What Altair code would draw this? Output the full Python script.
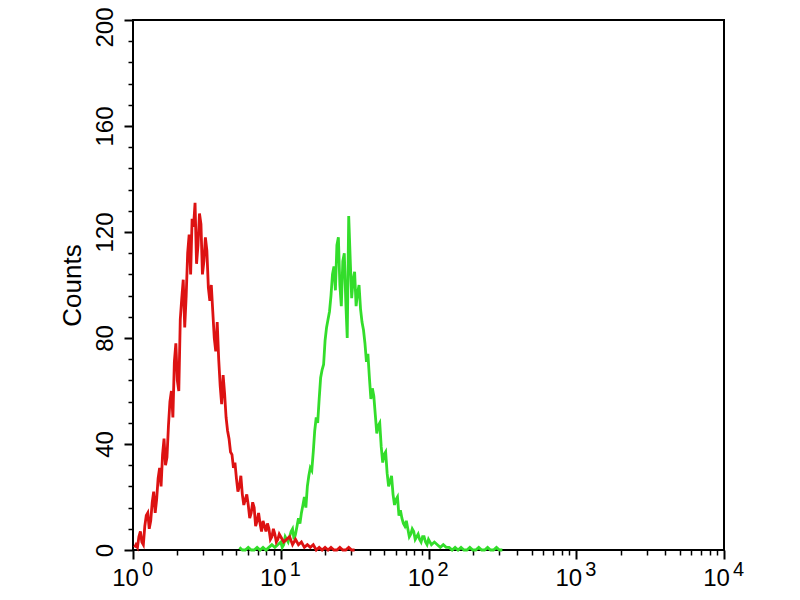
import altair as alt
import pandas as pd

# ---------------- data ----------------
# red histogram (unstained control)
RED_X = [1.047, 1.096, 1.148, 1.202, 1.259, 1.318, 1.380, 1.445, 1.514, 1.585,
         1.660, 1.738, 1.820, 1.905, 1.995, 2.089, 2.188, 2.291, 2.399, 2.512,
         2.630, 2.754, 2.884, 3.020, 3.162, 3.311, 3.467, 3.631, 3.802, 3.981,
         4.169, 4.365, 4.571, 4.786, 5.012, 5.248, 5.495, 5.754, 6.026, 6.310,
         6.607, 6.918, 7.244, 7.586, 7.943, 8.318, 8.710, 9.120, 9.550, 10.00,
         10.47, 10.96, 11.48, 12.02, 12.59, 13.18, 13.80, 14.45, 15.14, 15.85,
         16.60, 17.38, 18.20, 19.05, 19.95, 20.89, 21.88, 22.91, 23.99, 25.12,
         26.30, 27.54, 28.84, 30.20, 31.62]
RED_Y = [2, 5, 3, 9, 14, 11, 22, 19, 31, 36,
         32, 47, 60, 71, 64, 87, 102, 96, 119, 125,
         131, 115, 123, 109, 113, 94, 90, 75, 72, 55,
         59, 45, 37, 31, 27, 24, 21, 19, 17, 14,
         16, 11, 10, 11, 7, 8, 5, 6, 4, 5,
         3, 4, 5, 2, 4, 2, 3, 1, 2, 1,
         2, 0, 1, 0, 1, 0, 1, 0, 0, 1,
         0, 0, 1, 0, 0]
# in-between channels of the red histogram (the jagged part)
RED_X_MID = [1.023, 1.072, 1.122, 1.175, 1.230, 1.288, 1.349, 1.413, 1.479, 1.549,
             1.622, 1.698, 1.778, 1.862, 1.950, 2.042, 2.138, 2.239, 2.344, 2.455,
             2.570, 2.692, 2.818, 2.951, 3.090, 3.236, 3.388, 3.548, 3.715, 3.890,
             4.074, 4.266, 4.467, 4.677, 4.898, 5.129, 5.370, 5.623, 5.888, 6.166,
             6.457, 6.761, 7.079, 7.413, 7.762, 8.128, 8.511, 8.913, 9.333, 9.772]
RED_Y_MID = [1, 1, 7, 2, 13, 8, 18, 14, 27, 24,
             42, 35, 56, 50, 78, 60, 95, 84, 112, 104,
             122, 108, 127, 104, 118, 99, 100, 80, 86, 62,
             66, 50, 42, 36, 33, 22, 28, 17, 21, 12,
             18, 9, 14, 7, 9, 10, 4, 8, 3, 6]

# green histogram (stained sample)
GREEN_X = [5.248, 5.495, 5.754, 6.026, 6.310, 6.607, 6.918, 7.244, 7.586, 7.943,
           8.318, 8.710, 9.120, 9.550, 10.00, 10.47, 10.96, 11.48, 12.02, 12.59,
           13.18, 13.80, 14.45, 15.14, 15.85, 16.60, 17.38, 18.20, 19.05, 19.95,
           20.89, 21.88, 22.91, 23.99, 25.12, 26.30, 27.54, 28.84, 30.20, 31.62,
           33.11, 34.67, 36.31, 38.02, 39.81, 41.69, 43.65, 45.71, 47.86, 50.12,
           52.48, 54.95, 57.54, 60.26, 63.10, 66.07, 69.18, 72.44, 75.86, 79.43,
           83.18, 87.10, 91.20, 95.50, 100.0, 104.7, 109.6, 114.8, 120.2, 125.9,
           131.8, 138.0, 144.5, 151.4, 158.5, 166.0, 173.8, 182.0, 190.5, 199.5,
           208.9, 218.8, 229.1, 239.9, 251.2, 263.0, 275.4, 288.4, 302.0, 316.2]
GREEN_Y = [1, 0, 0, 1, 0, 0, 1, 0, 1, 0,
           1, 2, 1, 2, 3, 2, 4, 5, 8, 6,
           12, 14, 20, 24, 31, 37, 50, 57, 68, 79,
           87, 96, 107, 115, 100, 109, 94, 126, 95, 105,
           97, 91, 83, 71, 65, 61, 51, 47, 39, 36,
           29, 26, 21, 19, 13, 12, 9, 8, 6, 7,
           5, 4, 5, 3, 4, 2, 3, 2, 1, 2,
           1, 1, 0, 1, 0, 1, 0, 0, 1, 0,
           0, 1, 0, 0, 1, 0, 0, 1, 0, 0]
GREEN_X_MID = [10.23, 10.72, 11.22, 11.75, 12.30, 12.88, 13.49, 14.13, 14.79, 15.49,
               16.22, 16.98, 17.78, 18.62, 19.50, 20.42, 21.38, 22.39, 23.44, 24.55,
               25.70, 26.92, 28.18, 29.51, 30.90, 32.36, 33.88, 35.48, 37.15, 38.90,
               40.74, 42.66, 44.67, 46.77, 48.98, 51.29, 53.70, 56.23, 58.88, 61.66,
               64.57, 67.61, 70.79, 74.13, 77.62, 81.28, 85.11, 89.13, 93.33, 97.72]
GREEN_Y_MID = [1, 5, 3, 7, 4, 9, 10, 17, 16, 28,
               30, 45, 48, 65, 70, 84, 90, 104, 98, 118,
               92, 112, 80, 110, 102, 92, 100, 86, 78, 74,
               57, 58, 44, 48, 33, 37, 24, 28, 17, 20,
               15, 10, 11, 5, 8, 4, 6, 3, 5, 2]

X_MAJOR = [1, 10, 100, 1000, 10000]
X_BASE_LABEL = "10"
X_EXPONENTS = ["0", "1", "2", "3", "4"]
X_MINOR = [2, 3, 4, 5, 6, 7, 8, 9,
           20, 30, 40, 50, 60, 70, 80, 90,
           200, 300, 400, 500, 600, 700, 800, 900,
           2000, 3000, 4000, 5000, 6000, 7000, 8000, 9000]
Y_MAJOR = [0, 40, 80, 120, 160, 200]
Y_MINOR = [8, 16, 24, 32, 48, 56, 64, 72, 88, 96, 104, 112,
           128, 136, 144, 152, 168, 176, 184, 192]
Y_TITLE = "Counts"

# ---------------- chart ----------------
red = pd.concat([pd.DataFrame({"x": RED_X, "y": RED_Y}),
                 pd.DataFrame({"x": RED_X_MID, "y": RED_Y_MID})], ignore_index=True)
green = pd.concat([pd.DataFrame({"x": GREEN_X, "y": GREEN_Y}),
                   pd.DataFrame({"x": GREEN_X_MID, "y": GREEN_Y_MID})], ignore_index=True)

LABEL_FONT = "Liberation Sans"

xscale = alt.Scale(type="log", domain=[1, 10000], nice=False)
yscale = alt.Scale(domain=[0, 200], nice=False)

exp_expr = " : ".join(
    f"datum.value == {v} ? '{e}'" for v, e in zip(X_MAJOR, X_EXPONENTS)
) + " : ''"

x_major_axis = alt.Axis(values=X_MAJOR, labelExpr=f"'{X_BASE_LABEL}'", orient="bottom",
                        tickSize=9, tickWidth=2, tickColor="black", domain=False, grid=False,
                        labelFont=LABEL_FONT, labelFontSize=24, labelColor="black",
                        labelOffset=-8, labelPadding=7, labelBaseline="top",
                        labelFlush=False, labelOverlap=False, title=None)
x_minor_axis = alt.Axis(values=X_MINOR, labels=False, orient="bottom",
                        tickSize=5, tickWidth=1.5, tickColor="black", domain=False,
                        grid=False, title=None)
x_exp_axis = alt.Axis(values=X_MAJOR, labelExpr=exp_expr, orient="bottom", ticks=False,
                      domain=False, grid=False, labelFont=LABEL_FONT, labelFontSize=20,
                      labelColor="black", labelOffset=14, labelPadding=9, labelBaseline="top",
                      labelFlush=False, labelOverlap=False, title=None)

y_major_axis = alt.Axis(values=Y_MAJOR, orient="left", tickSize=9, tickWidth=2,
                        tickColor="black", domain=False, grid=False,
                        labelFont=LABEL_FONT, labelFontSize=24, labelColor="black",
                        labelAngle=270, labelAlign="center", labelBaseline="bottom",
                        labelOffset={"condition": {"test": "datum.value == 200", "value": 7},
                                     "value": 0},
                        labelPadding=7, labelFlush=False, labelOverlap=False,
                        title=Y_TITLE, titleFont=LABEL_FONT, titleFontSize=26,
                        titleFontWeight="normal", titleColor="black", titlePadding=8)
y_minor_axis = alt.Axis(values=Y_MINOR, orient="left", labels=False, tickSize=5,
                        tickWidth=1.5, tickColor="black", domain=False, grid=False,
                        title=None)

green_line = alt.Chart(green).mark_line(color="#33dd2b", strokeWidth=2.8).encode(
    x=alt.X("x:Q", scale=xscale, axis=x_minor_axis),
    y=alt.Y("y:Q", scale=yscale, axis=y_minor_axis),
)
red_line = alt.Chart(red).mark_line(color="#dd1212", strokeWidth=2.8).encode(
    x=alt.X("x:Q", scale=xscale, axis=x_major_axis),
    y=alt.Y("y:Q", scale=yscale, axis=y_major_axis),
)
exp_layer = alt.Chart(red).mark_point(opacity=0).encode(
    x=alt.X("x:Q", scale=xscale, axis=x_exp_axis),
    y=alt.Y("y:Q", scale=yscale, axis=None),
)

chart = (
    alt.layer(green_line, red_line, exp_layer)
    .resolve_axis(x="independent", y="independent")
    .properties(width=591, height=530,
                autosize=alt.AutoSizeParams(type="none"),
                padding={"left": 125, "top": 12, "right": 50, "bottom": 44},
                background="white")
    .configure_view(stroke="black", strokeWidth=2)
)

chart.save("out.html", embed_options={"renderer": "svg", "actions": False})
